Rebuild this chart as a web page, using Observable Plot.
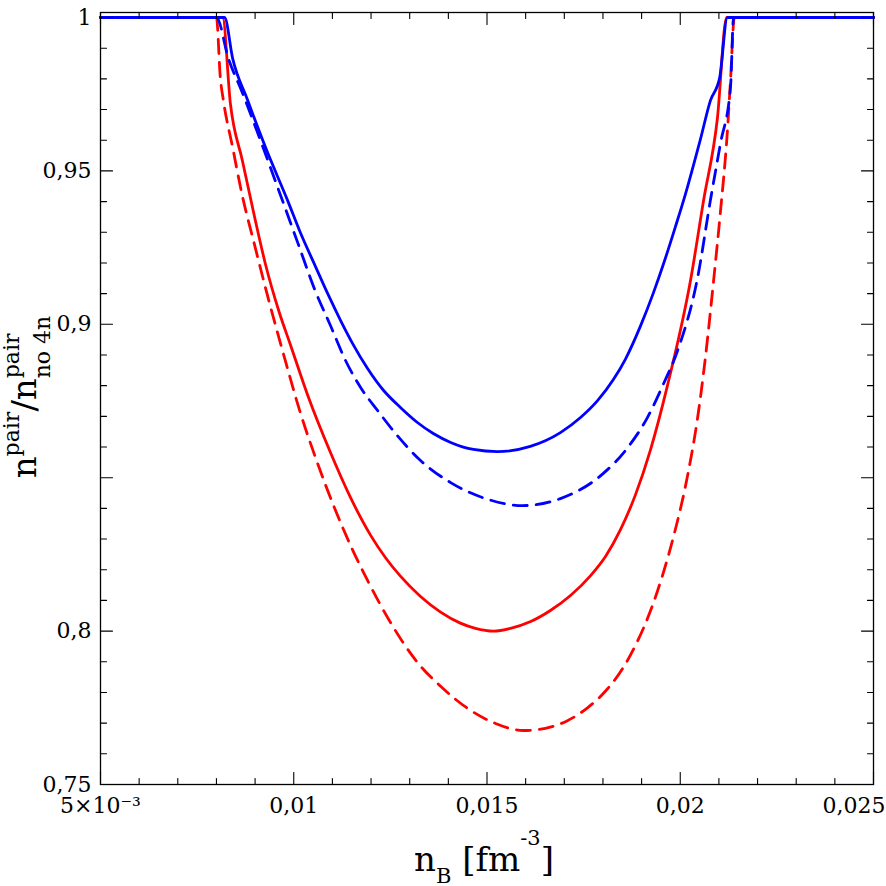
<!DOCTYPE html>
<html><head><meta charset="utf-8">
<script src="https://cdn.jsdelivr.net/npm/d3@7"></script>
<script src="https://cdn.jsdelivr.net/npm/@observablehq/plot@0.6"></script>
<style>html,body{margin:0;padding:0;background:#fff;} text,tspan{white-space:pre;}</style>
</head><body><div id="chart"></div>
<script>
// ---- data (n_B in fm^-3, ratio n^pair / n^pair_no4n) ----
const blueSolidX = [0.005, 0.00821, 0.00842, 0.00880, 0.00930, 0.00984, 0.01017, 0.01056, 0.01090, 0.01121, 0.01152, 0.01191, 0.01232, 0.01276, 0.01320, 0.01361, 0.01406, 0.01465, 0.01527, 0.01612, 0.01690, 0.01742, 0.01786, 0.01827, 0.01858, 0.01897, 0.01931, 0.01957, 0.01988, 0.02014, 0.02039, 0.02052, 0.02078, 0.02102, 0.02122, 0.025];
const blueSolidY = [1, 1, 0.9866, 0.9733, 0.9567, 0.9404, 0.9299, 0.9189, 0.9094, 0.9013, 0.8938, 0.8856, 0.8785, 0.8729, 0.8680, 0.8644, 0.8615, 0.8592, 0.8585, 0.8602, 0.8647, 0.8696, 0.8751, 0.8820, 0.8886, 0.8994, 0.9104, 0.9198, 0.9320, 0.9427, 0.9541, 0.9602, 0.9729, 0.9804, 1, 1];

const blueDashedX = [0.005, 0.00800, 0.00831, 0.00867, 0.00919, 0.00966, 0.01010, 0.01054, 0.01095, 0.01134, 0.01173, 0.01217, 0.01268, 0.01328, 0.01406, 0.01496, 0.01592, 0.01690, 0.01801, 0.01864, 0.01915, 0.01957, 0.01993, 0.02045, 0.02078, 0.02104, 0.02130, 0.02138, 0.025];
const blueDashedY = [1, 1, 0.9866, 0.9755, 0.9582, 0.9420, 0.9267, 0.9114, 0.8996, 0.8882, 0.8794, 0.8719, 0.8637, 0.8556, 0.8484, 0.8432, 0.8409, 0.8432, 0.8514, 0.8598, 0.8696, 0.8807, 0.8914, 0.9153, 0.9404, 0.9589, 0.9772, 1, 1];

const redSolidX = [0.005, 0.00816, 0.00836, 0.00867, 0.00896, 0.00927, 0.00961, 0.00992, 0.01038, 0.01095, 0.01147, 0.01199, 0.01237, 0.01276, 0.01328, 0.01380, 0.01431, 0.01470, 0.01517, 0.01561, 0.01613, 0.01664, 0.01716, 0.01768, 0.01807, 0.01845, 0.01884, 0.01923, 0.01967, 0.02027, 0.02060, 0.02096, 0.02120, 0.025];
const redSolidY = [1, 1, 0.9720, 0.9534, 0.9365, 0.9195, 0.9045, 0.8931, 0.8762, 0.8582, 0.8435, 0.8312, 0.8240, 0.8179, 0.8113, 0.8062, 0.8026, 0.8009, 0.8000, 0.8009, 0.8031, 0.8067, 0.8116, 0.8181, 0.8244, 0.8330, 0.8444, 0.8591, 0.8801, 0.9146, 0.9401, 0.9670, 1, 1];

const redDashedX = [0.005, 0.00800, 0.00810, 0.00818, 0.00842, 0.00865, 0.00899, 0.00932, 0.00973, 0.01017, 0.01059, 0.01103, 0.01147, 0.01191, 0.01258, 0.01320, 0.01380, 0.01450, 0.01522, 0.01594, 0.01651, 0.01708, 0.01760, 0.01812, 0.01851, 0.01889, 0.01923, 0.01954, 0.01983, 0.02019, 0.02045, 0.02065, 0.02086, 0.02104, 0.02122, 0.02130, 0.02140, 0.025];
const redDashedY = [1, 1, 0.9804, 0.9729, 0.9576, 0.9430, 0.9257, 0.9094, 0.8905, 0.8712, 0.8556, 0.8409, 0.8279, 0.8165, 0.8012, 0.7898, 0.7820, 0.7748, 0.7699, 0.7676, 0.7683, 0.7708, 0.7750, 0.7812, 0.7878, 0.7966, 0.8066, 0.8181, 0.8310, 0.8507, 0.8696, 0.8891, 0.9139, 0.9367, 0.9630, 0.9794, 1, 1];

// ---- ticks ----
const xMajorTicks = [0.005, 0.01, 0.015, 0.02, 0.025];
const xMinorTicks = [0.006, 0.007, 0.008, 0.009, 0.011, 0.012, 0.013, 0.014, 0.016, 0.017, 0.018, 0.019, 0.021, 0.022, 0.023, 0.024];
const xTickLabels = ["5×10⁻³", "0,01", "0,015", "0,02", "0,025"];
const yMajorTicks = [0.75, 0.8, 0.85, 0.9, 0.95, 1];
const yMinorTicks = [0.76, 0.77, 0.78, 0.79, 0.81, 0.82, 0.83, 0.84, 0.86, 0.87, 0.88, 0.89, 0.91, 0.92, 0.93, 0.94, 0.96, 0.97, 0.98, 0.99];
const yLabelValues = [0.75, 0.8, 0.9, 0.95, 1];
const yTickLabels = ["0,75", "0,8", "0,9", "0,95", "1"];

const toRows = (xs, ys) => xs.map((x, i) => ({x, y: ys[i]}));
const series = [
  {rows: toRows(redSolidX, redSolidY), color: "#ff0000", dash: null},
  {rows: toRows(redDashedX, redDashedY), color: "#ff0000", dash: "14,9"},
  {rows: toRows(blueDashedX, blueDashedY), color: "#0000ff", dash: "14,9"},
  {rows: toRows(blueSolidX, blueSolidY), color: "#0000ff", dash: null}
];

const tickShape = {draw(c, l) { c.moveTo(0, 0); c.lineTo(0, -l); }};
function ticks(values, ch, anchor, rotate, len) {
  return Plot.vector(values, {[ch]: d => d, frameAnchor: anchor, rotate, length: len, anchor: "start", shape: tickShape, stroke: "black", strokeWidth: 1.1});
}

const lastLabel = [xMajorTicks[4]];
const plot = Plot.plot({
  width: 886, height: 886,
  marginLeft: 100, marginRight: 13, marginTop: 12, marginBottom: 102,
  x: {domain: [0.005, 0.025], axis: null},
  y: {domain: [0.75, 1.00163], axis: null},
  style: {fontFamily: "DejaVu Serif", background: "white", color: "black"},
  marks: [
    ...series.map(s => Plot.line(s.rows, {x: "x", y: "y", stroke: s.color, strokeWidth: 2.8, strokeDasharray: s.dash, curve: "monotone-x"})),
    Plot.frame({stroke: "black", strokeWidth: 1.3}),
    ticks(xMajorTicks, "x", "bottom", 0, 12), ticks(xMinorTicks, "x", "bottom", 0, 6),
    ticks(xMajorTicks, "x", "top", 180, 12), ticks(xMinorTicks, "x", "top", 180, 6),
    ticks(yMajorTicks, "y", "left", 90, 12), ticks(yMinorTicks, "y", "left", 90, 6),
    ticks(yMajorTicks, "y", "right", -90, 12), ticks(yMinorTicks, "y", "right", -90, 6),
    Plot.text(yLabelValues, {y: d => d, text: (d, i) => yTickLabels[i], frameAnchor: "left", textAnchor: "end", dx: -9, fontSize: 22, fill: "black"}),
    Plot.text(xMajorTicks.slice(0, 4), {x: d => d, text: (d, i) => xTickLabels[i], frameAnchor: "bottom", dy: 28, fontSize: 22, fill: "black"}),
    Plot.text(lastLabel, {x: d => d, text: () => xTickLabels[4], frameAnchor: "bottom", textAnchor: "end", dx: 12, dy: 28, fontSize: 22, fill: "black"})
  ]
});
document.getElementById("chart").appendChild(plot);

// axis titles with sub/superscripts
function richText(svg, transform, fontSize, parts) {
  const t = d3.select(svg).append("text")
    .attr("transform", transform)
    .attr("text-anchor", "middle")
    .attr("font-family", "DejaVu Serif")
    .attr("font-size", fontSize)
    .attr("fill", "black")
    .style("white-space", "pre");
  for (const p of parts) {
    const s = t.append("tspan").text(p.text);
    if (p.size) s.attr("font-size", p.size);
    if (p.dy) s.attr("dy", p.dy);
    if (p.dx) s.attr("dx", p.dx);
  }
}
richText(plot, "translate(484,871)", 34, [
  {text: "n"},
  {text: "B", size: 21, dy: 12},
  {text: " [fm", dy: -12},
  {text: "-3", size: 21, dy: -26},
  {text: "]", dy: 26}
]);
richText(plot, "translate(36,397) rotate(-90)", 34, [
  {text: "n"},
  {text: "pair", size: 22, dy: -17},
  {text: "/", dy: 17},
  {text: "n"},
  {text: "pair", size: 22, dy: -17},
  {text: "no 4n", size: 22, dx: -44.8, dy: 31}
]);
</script>
</body></html>
